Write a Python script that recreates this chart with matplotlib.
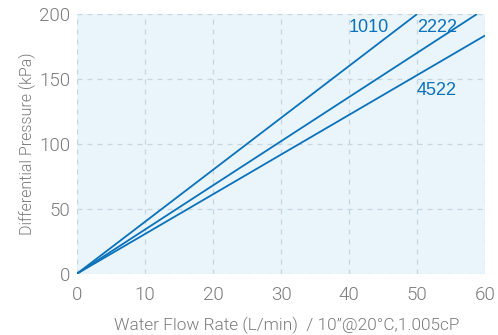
import matplotlib
matplotlib.use("Agg")
import matplotlib.pyplot as plt

# Data
flow_1010 = [0, 50]
dp_1010 = [0, 200]
flow_2222 = [0, 58.8]
dp_2222 = [0, 200]
flow_4522 = [0, 60]
dp_4522 = [0, 183.5]

labels = ["1010", "2222", "4522"]
label_pos = [(40, 190), (50, 190), (50, 141)]

x_ticks = [0, 10, 20, 30, 40, 50, 60]
y_ticks = [0, 50, 100, 150, 200]

LINE_COLOR = "#0a72ba"
BG_COLOR = "#e9f4fb"
GRID_COLOR = "#c9d6df"
TEXT_GRAY = "#7a7a7a"

plt.rcParams["font.family"] = ["Roboto", "DejaVu Sans"]

fig = plt.figure(figsize=(4.98, 3.35), dpi=100)
ax = fig.add_axes([0.1546, 0.183, 0.8194, 0.775])
ax.set_facecolor(BG_COLOR)

for xs, ys in [(flow_1010, dp_1010), (flow_2222, dp_2222), (flow_4522, dp_4522)]:
    ax.plot(xs, ys, color=LINE_COLOR, linewidth=1.3, solid_capstyle="butt")

for text, (x, y) in zip(labels, label_pos):
    ax.text(x, y, text, color=LINE_COLOR, fontsize=13,
            family=["Liberation Sans", "DejaVu Sans"], ha="left", va="center")

ax.set_xlim(0, 60)
ax.set_ylim(0, 200)
ax.set_xticks(x_ticks)
ax.set_yticks(y_ticks)
ax.grid(True, color=GRID_COLOR, linestyle=(0, (4, 4)), linewidth=0.9)
ax.set_axisbelow(True)

for s in ax.spines.values():
    s.set_visible(False)
ax.tick_params(length=0, colors=TEXT_GRAY, labelsize=13.5)
ax.tick_params(axis="x", pad=9)
ax.tick_params(axis="y", pad=5)
for lbl in ax.get_xticklabels() + ax.get_yticklabels():
    lbl.set_fontweight(300)

ax.set_xlabel("Water Flow Rate (L/min)  / 10\u201d@20\u00b0C,1.005cP",
              color=TEXT_GRAY, fontsize=12.4, fontweight=300, labelpad=9)
ax.xaxis.label.set_x(0.515)
ax.set_ylabel("Differential Pressure (kPa)", color=TEXT_GRAY, fontsize=11.5,
              fontweight=300, labelpad=2)

fig.savefig("out.png", dpi=100)
